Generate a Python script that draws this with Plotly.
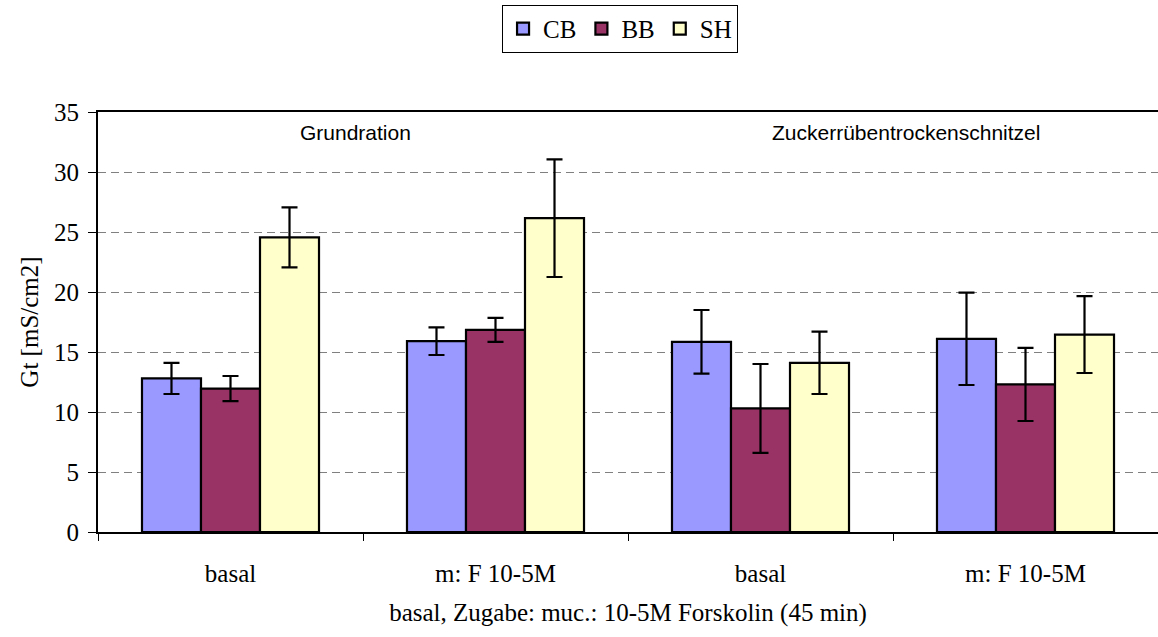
import plotly.graph_objects as go

categories = ["basal", "m: F 10-5M", "basal", "m: F 10-5M"]
series_names = ["CB", "BB", "SH"]
cb_values = [12.8, 15.9, 15.85, 16.1]
cb_errors = [1.3, 1.15, 2.65, 3.85]
bb_values = [11.95, 16.85, 10.3, 12.3]
bb_errors = [1.05, 1.0, 3.7, 3.05]
sh_values = [24.55, 26.15, 14.1, 16.45]
sh_errors = [2.5, 4.9, 2.6, 3.2]
group_labels = ["Grundration", "Zuckerrübentrockenschnitzel"]

colors = ["#9999FF", "#993366", "#FFFFCC"]
serif = "Liberation Serif, Times New Roman, serif"
sans = "Liberation Sans, Arial, sans-serif"

xpos = list(range(len(categories)))

fig = go.Figure()
for name, vals, errs, col in zip(series_names,
                                 [cb_values, bb_values, sh_values],
                                 [cb_errors, bb_errors, sh_errors],
                                 colors):
    fig.add_trace(go.Bar(
        name=name, x=xpos, y=vals,
        marker=dict(color=col, line=dict(color="black", width=2.2)),
        error_y=dict(type="data", array=errs, visible=True,
                     color="black", thickness=2.2, width=8),
    ))

fig.update_layout(
    width=1158, height=637,
    margin=dict(l=98, r=0, t=112, b=105),
    paper_bgcolor="white", plot_bgcolor="white",
    barmode="group", bargap=0.332, bargroupgap=0,
    font=dict(family=serif, size=25, color="black"),
    showlegend=True,
    legend=dict(orientation="h", x=0.4925, xanchor="center", y=1.255, yanchor="top",
                bordercolor="black", borderwidth=1, font=dict(family=serif, size=25),
                itemwidth=30),
    xaxis=dict(
        range=[-0.5, len(categories) - 0.5],
        tickmode="array", tickvals=xpos, ticktext=categories, ticks="",
        showgrid=False, zeroline=False,
        showline=True, linecolor="black", linewidth=2, mirror=True,
        tickfont=dict(family=serif, size=25),
        ticklabelstandoff=18,
        minor=dict(tickmode="array",
                   tickvals=[i - 0.5 for i in range(len(categories) + 1)],
                   ticks="outside", ticklen=7, tickwidth=1, tickcolor="black",
                   showgrid=False),
        title=dict(text="basal, Zugabe: muc.: 10-5M Forskolin (45 min)",
                   font=dict(family=serif, size=25), standoff=17),
    ),
    yaxis=dict(
        range=[0, 35], dtick=5, tick0=0,
        ticks="outside", ticklen=8, tickwidth=1, tickcolor="black",
        showline=True, linecolor="black", linewidth=2,
        showgrid=True, gridcolor="#808080", gridwidth=1, griddash="8px,5px",
        zeroline=False,
        tickfont=dict(family=serif, size=25),
        ticklabelstandoff=4,
        title=dict(text="Gt [mS/cm2]", font=dict(family=serif, size=25), standoff=8),
    ),
)

for label, xc in zip(group_labels, [0.47, 2.55]):
    fig.add_annotation(x=xc, y=33.3, xref="x", yref="y", text=label,
                       showarrow=False, font=dict(family=sans, size=21, color="black"))

fig.write_html("out.html")
